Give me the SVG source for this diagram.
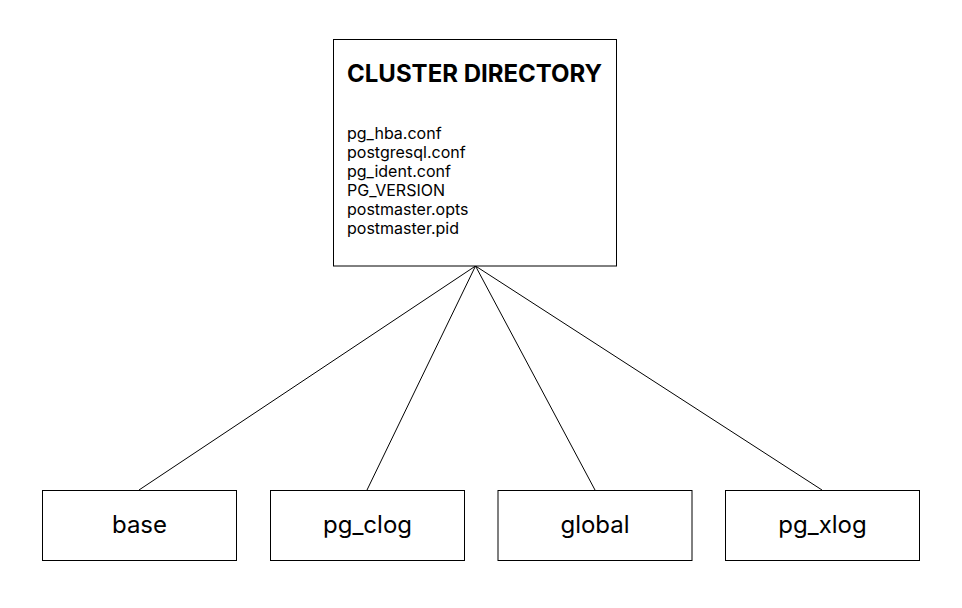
<svg xmlns="http://www.w3.org/2000/svg" width="962" height="608" viewBox="0 0 962 608">
<style>
.box{fill:#fff;stroke:#000;stroke-width:1}
.conn{stroke:#000;stroke-width:1;fill:none}
.title{font-family:Inter,"Liberation Sans",sans-serif;font-weight:700;font-size:24px;fill:#000}
.file{font-family:Inter,"Liberation Sans",sans-serif;font-size:16px;fill:#000}
.lbl{font-family:Inter,"Liberation Sans",sans-serif;font-size:24px;fill:#000;text-anchor:middle}
</style>
<rect width="962" height="608" fill="#fff"/>
<g id="connectors">
<line class="conn" x1="475.5" y1="266" x2="139" y2="490"/>
<line class="conn" x1="475.5" y1="266" x2="367" y2="490"/>
<line class="conn" x1="475.5" y1="266" x2="595" y2="490"/>
<line class="conn" x1="475.5" y1="266" x2="822" y2="490"/>
</g>
<g id="cluster">
<rect class="box" x="333.5" y="39.5" width="283" height="226.5"/>
<text class="title" x="347" y="82">CLUSTER DIRECTORY</text>
<text class="file" x="347" y="139">pg_hba.conf</text>
<text class="file" x="347" y="158">postgresql.conf</text>
<text class="file" x="347" y="177">pg_ident.conf</text>
<text class="file" x="347" y="196">PG_VERSION</text>
<text class="file" x="347" y="215">postmaster.opts</text>
<text class="file" x="347" y="234">postmaster.pid</text>
</g>
<g id="base">
<rect class="box" x="42.5" y="490.5" width="194" height="70"/>
<text class="lbl" x="139.5" y="533">base</text>
</g>
<g id="pg_clog">
<rect class="box" x="270.5" y="490.5" width="194" height="70"/>
<text class="lbl" x="367.5" y="533">pg_clog</text>
</g>
<g id="global">
<rect class="box" x="498" y="490.5" width="194" height="70"/>
<text class="lbl" x="595" y="533">global</text>
</g>
<g id="pg_xlog">
<rect class="box" x="725.5" y="490.5" width="194" height="70"/>
<text class="lbl" x="822.5" y="533">pg_xlog</text>
</g>
</svg>
